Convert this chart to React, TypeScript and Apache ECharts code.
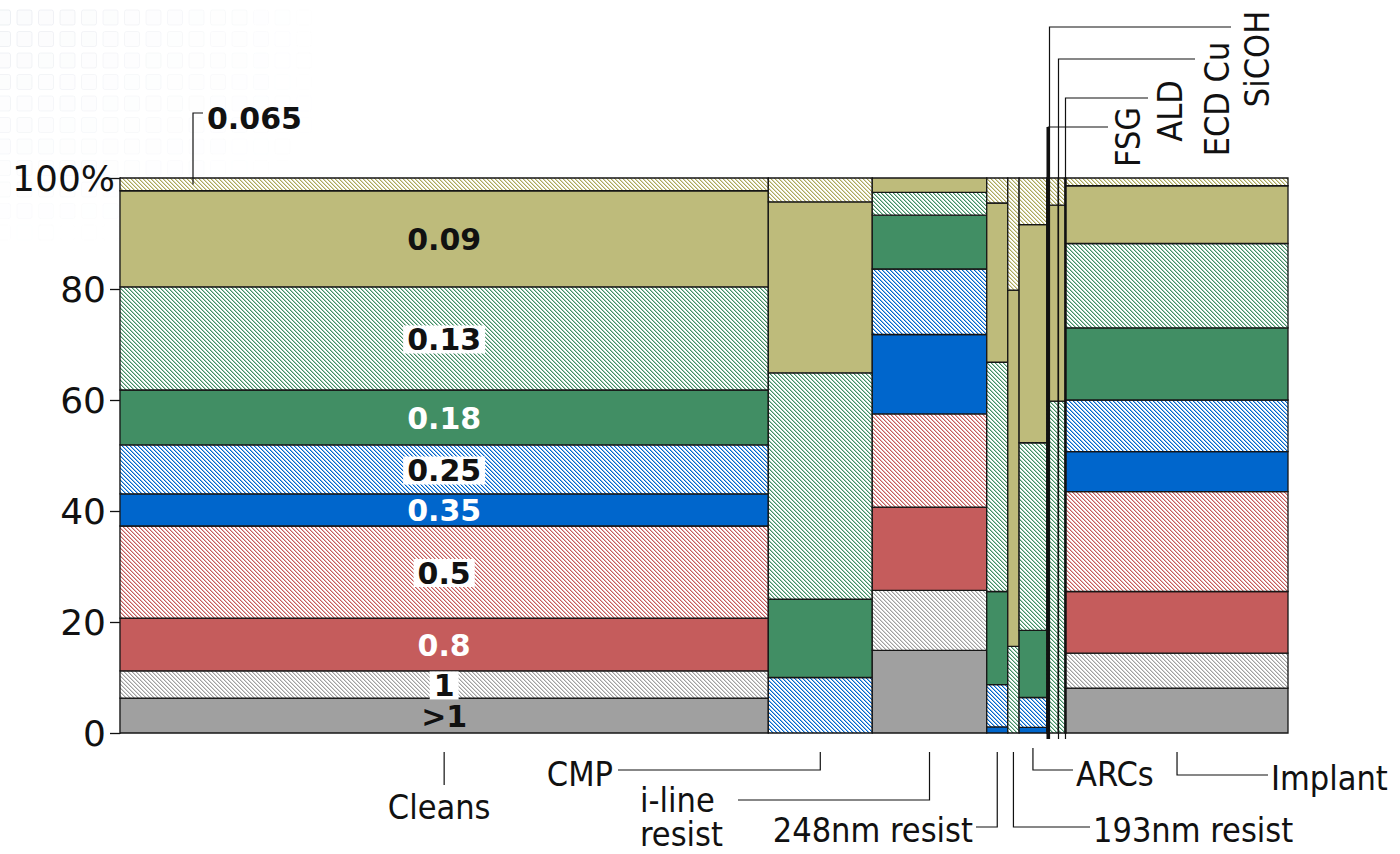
import React, { useEffect, useRef } from "react";
import * as echarts from "echarts";

// ---- data ----
const columns = ["Cleans", "CMP", "i-line resist", "248nm resist", "193nm resist", "ARCs", "FSG", "SiCOH", "ECD Cu", "ALD", "Implant"];
const columnShares = [55.5, 8.9, 9.8, 1.8, 0.97, 2.37, 0.15, 0.84, 0.57, 0.09, 19.0];
const nodeLabels = [">1", "1", "0.8", "0.5", "0.35", "0.25", "0.18", "0.13", "0.09", "0.065"];

const shareGt1 = [6.3, 0, 14.9, 0, 0, 0, 0, 0, 0, 0, 8.1];
const share1 = [4.9, 0, 10.8, 0, 0, 0, 0, 0, 0, 0, 6.3];
const share08 = [9.5, 0, 15.0, 0, 0, 0, 0, 0, 0, 0, 11.1];
const share05 = [16.6, 0, 16.8, 0, 0, 0, 0, 0, 0, 0, 18.0];
const share035 = [5.8, 0, 14.3, 1.1, 0, 1.0, 0, 0, 0, 0, 7.2];
const share025 = [8.8, 10.0, 11.8, 7.6, 0, 5.4, 0, 0, 0, 0, 9.3];
const share018 = [9.9, 14.1, 9.7, 16.8, 0, 12.1, 0, 0, 0, 0, 13.0];
const share013 = [18.6, 40.8, 4.1, 41.3, 15.6, 33.8, 60.0, 59.8, 59.8, 60.0, 15.2];
const share009 = [17.3, 30.8, 2.6, 28.7, 64.2, 39.3, 35.0, 35.3, 35.3, 35.0, 10.4];
const share0065 = [2.3, 4.3, 0, 4.5, 20.2, 8.4, 5.0, 4.9, 4.9, 5.0, 1.4];
const nodeShares = [shareGt1, share1, share08, share05, share035, share025, share018, share013, share009, share0065];

const yTicks = [0, 20, 40, 60, 80, 100];

// ---- styles ----
const nodeStyles = [
  { color: "#A0A0A0", hatch: false, text: "#111", bg: false },
  { color: "#A0A0A0", hatch: true, text: "#111", bg: true },
  { color: "#C55C5C", hatch: false, text: "#fff", bg: false },
  { color: "#C55C5C", hatch: true, text: "#111", bg: true },
  { color: "#0066CC", hatch: false, text: "#fff", bg: false },
  { color: "#0066CC", hatch: true, text: "#111", bg: true },
  { color: "#418E64", hatch: false, text: "#fff", bg: false },
  { color: "#418E64", hatch: true, text: "#111", bg: true },
  { color: "#BEBB7B", hatch: false, text: "#111", bg: false },
  { color: "#ACA85C", hatch: true, text: "#111", bg: false },
];

const CAT_FONT = '34px "DejaVu Sans Condensed", "DejaVu Sans", sans-serif';
const VAL_FONT = 'bold 30px "DejaVu Sans", sans-serif';

function hexToRgb(h: string) {
  const n = parseInt(h.slice(1), 16);
  return [(n >> 16) & 255, (n >> 8) & 255, n & 255];
}

function hatchPattern(color: string, period = 4) {
  const c = document.createElement("canvas");
  c.width = period;
  c.height = period;
  const ctx = c.getContext("2d")!;
  ctx.fillStyle = "#ffffff";
  ctx.fillRect(0, 0, period, period);
  const [r, gg, b] = hexToRgb(color);
  ctx.fillStyle = `rgba(${r},${gg},${b},0.45)`;
  for (let i = 0; i < period; i++) ctx.fillRect((i + 1) % period, i, 1, 1);
  ctx.fillStyle = color;
  for (let i = 0; i < period; i++) ctx.fillRect(i, i, 1, 1);
  return { image: c, repeat: "repeat", imageWidth: period, imageHeight: period } as any;
}

export default function App() {
  const ref = useRef<HTMLDivElement>(null);
  useEffect(() => {
    if (!ref.current) return;
    const chart = echarts.init(ref.current, null, { renderer: "svg" });
    const fills = nodeStyles.map((s) => (s.hatch ? hatchPattern(s.color) : s.color));
    const total = columnShares.reduce((a, b) => a + b, 0);

    const data: any[] = [];
    const colStart: number[] = [];
    let cx = 0;
    columns.forEach((_, ci) => {
      colStart.push(cx);
      let cy = 0;
      nodeShares.forEach((arr, ni) => {
        const v = arr[ci];
        if (v > 0) {
          data.push([cx, cx + columnShares[ci], cy, cy + v, ni, ci]);
          cy += v;
        }
      });
      cx += columnShares[ci];
    });

    const option: any = {
      animation: false,
      backgroundColor: "#ffffff",
      grid: { left: 120, right: 112, top: 178, bottom: 121 },
      xAxis: { type: "value", min: 0, max: total, show: false },
      yAxis: {
        type: "value",
        min: yTicks[0],
        max: yTicks[yTicks.length - 1],
        interval: yTicks[1] - yTicks[0],
        splitLine: { show: false },
        axisLine: { show: true, lineStyle: { color: "#111", width: 1.3 } },
        axisTick: { show: true, length: 10, lineStyle: { color: "#111", width: 1.3 } },
        axisLabel: {
          margin: 5,
          fontSize: 36,
          fontFamily: '"DejaVu Sans", sans-serif',
          color: "#111",
          formatter: (v: number) => (v === 100 ? "{p|100%}" : "{n|" + v + "}"),
          rich: {
            n: { fontSize: 36, fontFamily: '"DejaVu Sans", sans-serif', color: "#111", padding: [0, 9, 0, 0] },
            p: { fontSize: 36, fontFamily: '"DejaVu Sans", sans-serif', color: "#111" },
          },
        },
      },
      series: [
        {
          type: "custom",
          coordinateSystem: "cartesian2d",
          encode: { x: [0, 1], y: [2, 3] },
          data,
          renderItem: (params: any, api: any) => {
            const x0 = api.value(0), x1 = api.value(1), y0 = api.value(2), y1 = api.value(3);
            const n = api.value(4), c = api.value(5);
            const tl = api.coord([x0, y1]);
            const br = api.coord([x1, y0]);
            const st = nodeStyles[n];
            const children: any[] = [
              {
                type: "rect",
                shape: { x: tl[0], y: tl[1], width: br[0] - tl[0], height: br[1] - tl[1] },
                style: { fill: fills[n], stroke: "#161616", lineWidth: 1.3 },
              },
            ];
            if (c === 0 && n !== 9) {
              const style: any = {
                text: nodeLabels[n],
                x: (tl[0] + br[0]) / 2,
                y: (tl[1] + br[1]) / 2 + 1,
                align: "center",
                verticalAlign: "middle",
                textAlign: "center",
                textVerticalAlign: "middle",
                fill: st.text,
                font: VAL_FONT,
                lineHeight: st.bg ? 28 : 25,
              };
              if (st.bg) {
                style.backgroundColor = "#ffffff";
                style.padding = [0, 4, 0, 4];
              }
              children.push({ type: "text", z2: 50, style });
            }
            return { type: "group", children };
          },
        },
      ],
    };
    chart.setOption(option);

    const px = (x: number, y: number) => chart.convertToPixel({ gridIndex: 0 }, [x, y]) as number[];
    const g: any[] = [];

    // faint decorative background squares
    for (let r = 0; r < 11; r++) {
      for (let k = 0; k < 15; k++) {
        const x = 17 + k * 21.5 - 21.5;
        const y = 10 + r * 21.5;
        const op = Math.max(0, 1 - (x + 10) / 330) * Math.max(0, 1 - y / 250) * 0.55;
        if (op <= 0.02) continue;
        g.push({
          type: "rect",
          silent: true,
          z: -10,
          shape: { x, y, width: 15, height: 15, r: 2 },
          style: { fill: "rgba(240,242,246,0.5)", stroke: "#dfe3ea", lineWidth: 1, opacity: op },
        });
      }
    }

    const line = (pts: number[][], w = 1.2) => ({
      type: "polyline",
      z: 100,
      shape: { points: pts },
      style: { stroke: "#111", lineWidth: w, fill: null },
    });
    const txt = (s: string, x: number, y: number, align: string, font = CAT_FONT, extra: any = {}) => ({
      type: "text",
      z: 100,
      x,
      y,
      style: {
        text: s,
        font,
        fill: "#111",
        align,
        verticalAlign: "middle",
        textAlign: align,
        textVerticalAlign: "middle",
        ...extra,
      },
    });

    const center = (ci: number) => px(colStart[ci] + columnShares[ci] / 2, 0)[0];
    const startX = (ci: number) => px(colStart[ci], 0)[0];
    const yBase = px(0, 0)[1];

    // bottom leaders
    const cC = center(0);
    g.push(line([[cC, yBase + 19], [cC, yBase + 52]]));
    g.push(txt(columns[0], cC - 5, 807, "center"));

    const cM = center(1);
    g.push(line([[cM, yBase + 19], [cM, 770], [618, 770]]));
    g.push(txt(columns[1], 613, 774, "right"));

    const cI = center(2);
    g.push(line([[cI, yBase + 19], [cI, 800], [738, 800]]));
    g.push(txt("i-line", 640, 800, "left", CAT_FONT, { lineHeight: 34 }));
    g.push(txt("resist", 640, 834, "left", CAT_FONT, { lineHeight: 34 }));

    const c248 = center(3);
    g.push(line([[c248, yBase + 19], [c248, 827], [976, 827]]));
    g.push(txt(columns[3], 973, 830, "right"));

    const c193 = center(4);
    g.push(line([[c193, yBase + 19], [c193, 827], [1090, 827]]));
    g.push(txt(columns[4], 1093, 830, "left"));

    const cA = center(5);
    g.push(line([[cA, yBase + 15], [cA, 770], [1073, 770]]));
    g.push(txt(columns[5], 1076, 774, "left"));

    const cImp = center(10);
    g.push(line([[cImp, yBase + 19], [cImp, 775], [1268, 775]]));
    g.push(txt(columns[10], 1271, 778, "left"));

    // top leaders (rotated labels)
    const bottomEnd = yBase + 6;
    const xF = startX(6) + 1;
    g.push(line([[xF, bottomEnd], [xF, 127]], 2.6));
    g.push(line([[xF, 127], [1108, 127]]));
    g.push({ ...txt(columns[6], 1128, 137, "center"), rotation: Math.PI / 2 });
    const xS = Math.round(startX(7)) + 0.5;
    g.push(line([[xS, bottomEnd], [xS, 27], [1231, 27]]));
    g.push({ ...txt(columns[7], 1257, 59, "center"), rotation: Math.PI / 2 });
    const xE = Math.round(startX(8)) + 0.5;
    g.push(line([[xE, bottomEnd], [xE, 59], [1195, 59]]));
    g.push({ ...txt(columns[8], 1217, 99, "center"), rotation: Math.PI / 2 });
    const xAld = Math.round(startX(9)) + 0.5;
    g.push(line([[xAld, bottomEnd], [xAld, 98], [1148, 98]]));
    g.push({ ...txt(columns[9], 1170, 111, "center"), rotation: Math.PI / 2 });

    // 0.065 callout
    const topSegMid = px(0, 100 - share0065[0] / 2)[1];
    const xL = px(0, 0)[0] + 73;
    g.push(line([[xL, topSegMid], [xL, 113], [xL + 10, 113]]));
    g.push(txt(nodeLabels[9], xL + 14, 118, "left", VAL_FONT));

    chart.setOption({ graphic: { elements: g } });

    return () => chart.dispose();
  }, []);
  return (
    <div
      ref={ref}
      style={{ position: "fixed", left: 0, top: 0, width: 1400, height: 854, background: "#fff" }}
    />
  );
}
